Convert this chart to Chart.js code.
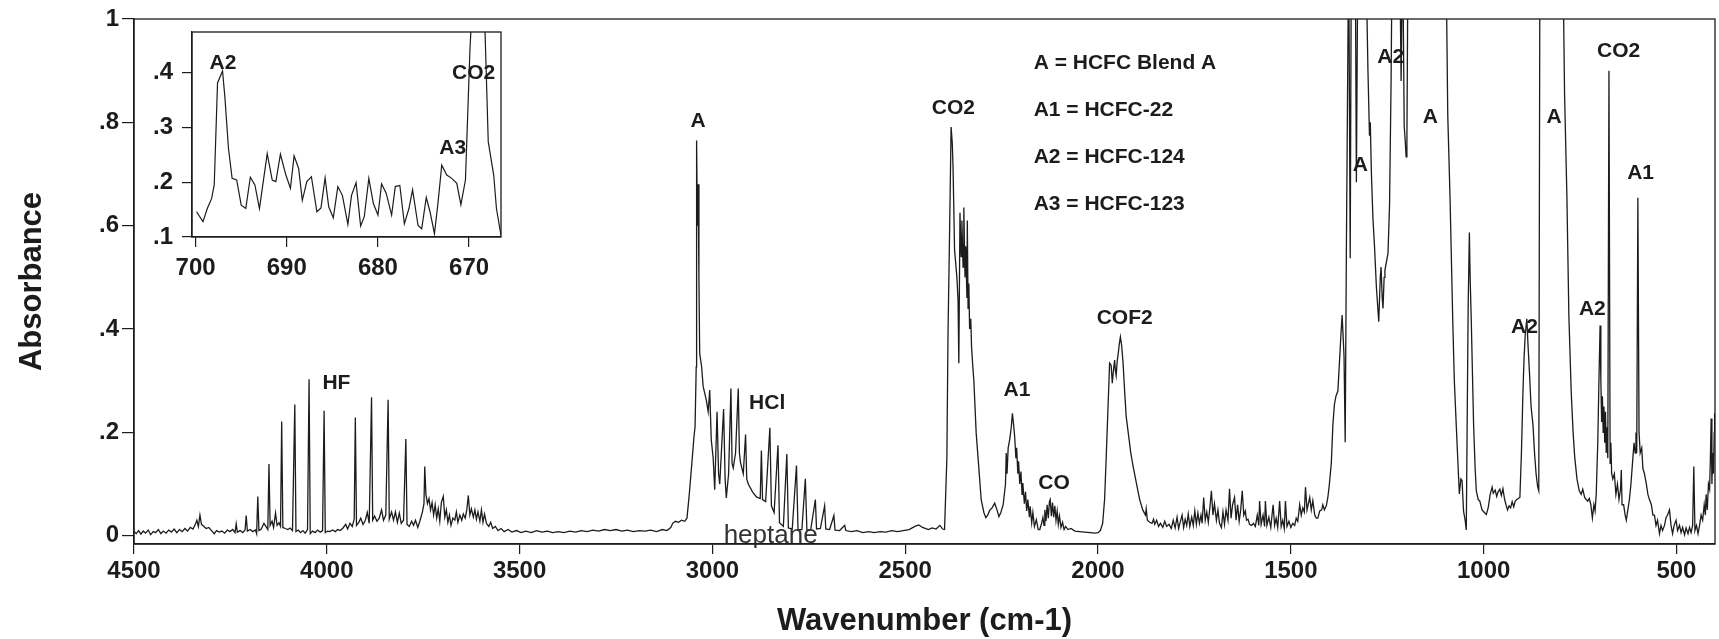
<!DOCTYPE html>
<html>
<head>
<meta charset="utf-8">
<script src="https://cdn.jsdelivr.net/npm/chart.js@4.4.0/dist/chart.umd.min.js"></script>
<style>
  html, body { margin: 0; padding: 0; background: #fff; }
  #wrap { position: relative; width: 1719px; height: 639px; }
  #main { position: absolute; left: 0; top: 0; }
  #inset { position: absolute; left: 136px; top: 22px; background: #fff; }
</style>
</head>
<body>
<div id="wrap">
  <canvas id="main" width="1719" height="639"></canvas>
  <canvas id="inset" width="380" height="265"></canvas>
</div>
<script>
// spectrum: wavenumber (cm-1) and absorbance
const wavenumber = [
  4500,4494,4488,4482,4476,4470,4463,4457,4450,4444,4437,4430,4424,4417,4410,4403,4396,4389,4382,4375,
  4368,4361,4354,4347,4341,4337,4333,4329,4325,4320,4313,4306,4299,4292,4286,4279,4272,4265,4258,4251,
  4244,4238,4235,4232,4225,4218,4212,4209,4206,4199,4192,4185,4182,4179,4176,4170,4163,4158,4153,4150,
  4147,4142,4138,4133,4129,4124,4120,4117,4114,4108,4101,4095,4089,4083,4080,4074,4068,4062,4056,4050,
  4046,4043,4037,4030,4024,4017,4011,4007,4004,3998,3992,3985,3978,3972,3965,3958,3951,3946,3940,3934,
  3929,3926,3923,3917,3912,3906,3900,3895,3890,3884,3881,3876,3870,3864,3858,3853,3847,3841,3838,3832,
  3827,3822,3817,3812,3807,3801,3795,3792,3786,3780,3775,3770,3764,3758,3752,3748,3746,3743,3739,3735,
  3731,3727,3723,3719,3715,3711,3707,3703,3698,3694,3690,3686,3682,3678,3673,3668,3664,3660,3655,3650,
  3646,3641,3637,3633,3629,3625,3620,3616,3612,3608,3603,3599,3595,3591,3586,3580,3575,3570,3563,3556,
  3548,3540,3530,3520,3508,3496,3484,3470,3456,3442,3428,3414,3400,3385,3370,3355,3340,3325,3310,3295,
  3280,3265,3250,3235,3220,3205,3190,3175,3160,3145,3130,3118,3108,3103,3096,3088,3080,3072,3066,3060,
  3054,3048,3045,3042,3041,3039,3037,3035,3033,3028,3024,3016,3011,3007,3003,2998,2994,2988,2984,2981,
  2971,2967,2964,2958,2952,2949,2946,2940,2933,2930,2927,2920,2914,2911,2907,2896,2886,2876,2873,2870,
  2862,2851,2847,2840,2830,2826,2816,2807,2803,2793,2782,2778,2768,2759,2755,2745,2733,2730,2720,2709,
  2706,2696,2685,2682,2670,2657,2654,2640,2625,2610,2595,2580,2565,2550,2535,2520,2505,2490,2475,2465,
  2455,2440,2430,2420,2410,2403,2398,2392,2389,2385,2381,2378,2376,2372,2366,2363,2361,2358,2355,2353,
  2350,2348,2345,2343,2340,2339,2337,2335,2333,2330,2328,2325,2322,2316,2310,2303,2296,2291,2286,2281,
  2274,2268,2262,2257,2252,2246,2240,2238,2236,2233,2229,2225,2222,2219,2216,2213,2211,2208,2206,2203,
  2200,2197,2195,2191,2188,2185,2182,2178,2176,2172,2169,2165,2160,2155,2151,2146,2143,2140,2138,2135,
  2132,2129,2126,2124,2121,2118,2115,2112,2109,2106,2103,2100,2096,2092,2088,2084,2078,2070,2060,2048,
  2035,2020,2008,2000,1994,1988,1983,1979,1974,1970,1966,1963,1960,1957,1955,1953,1950,1948,1945,1942,
  1939,1935,1931,1927,1920,1915,1909,1900,1892,1884,1877,1875,1872,1866,1860,1856,1853,1848,1843,1838,
  1832,1827,1822,1816,1810,1805,1800,1795,1791,1787,1782,1778,1774,1770,1766,1762,1757,1753,1749,1745,
  1741,1737,1733,1730,1726,1722,1718,1714,1710,1706,1702,1698,1693,1689,1685,1680,1676,1672,1668,1663,
  1659,1655,1651,1646,1642,1638,1634,1630,1626,1622,1618,1615,1611,1607,1602,1597,1592,1587,1583,1581,
  1577,1572,1568,1566,1562,1557,1552,1546,1542,1538,1534,1529,1525,1521,1517,1514,1510,1505,1500,1495,
  1490,1486,1482,1477,1473,1469,1465,1462,1458,1455,1451,1447,1443,1438,1434,1430,1425,1420,1417,1413,
  1408,1404,1400,1395,1391,1387,1383,1378,1374,1370,1367,1364,1362,1359,1356,1354,1350,1346,1343,1333,
  1330,1326,1306,1300,1296,1294,1291,1287,1283,1278,1272,1268,1266,1263,1261,1258,1256,1252,1248,1244,
  1240,1237,1218,1214,1210,1206,1203,1201,1199,1196,1098,1093,1087,1080,1076,1071,1066,1063,1059,1056,
  1052,1048,1045,1042,1040,1037,1035,1032,1026,1022,1019,1014,1010,1004,998,993,988,983,978,975,
  970,966,963,958,954,950,946,942,938,934,930,926,922,918,914,910,906,902,898,895,
  892,888,885,881,877,872,868,864,860,857,854,795,790,784,779,775,773,768,764,758,
  752,747,743,738,734,730,726,722,718,714,711,708,704,701,698,696,694,692,690,688,
  686,684,682,680,678,675,672,670,668,665,661,657,653,649,645,643,641,637,633,630,
  626,622,618,614,610,607,605,603,600,597,594,590,587,583,578,574,570,565,561,557,
  553,549,544,540,536,531,527,523,518,514,510,506,501,497,492,488,484,479,475,470,
  466,462,458,455,452,448,444,440,436,432,428,425,423,420,417,414,412,410,408,406,
  404,402,401
];
const absorbance = [
  0.008,0.004,0.010,0.003,0.009,0.005,0.011,0.002,0.008,0.006,0.012,0.004,0.009,0.005,0.011,0.007,0.013,0.006,0.012,0.008,
  0.014,0.009,0.016,0.013,0.022,0.030,0.018,0.040,0.022,0.019,0.014,0.016,0.010,0.004,0.010,0.007,0.009,0.005,0.011,0.008,
  0.012,0.006,0.023,0.007,0.010,0.006,0.011,0.039,0.009,0.012,0.008,0.011,0.004,0.076,0.010,0.013,0.024,0.018,0.012,0.139,
  0.020,0.028,0.016,0.044,0.020,0.025,0.018,0.221,0.016,0.014,0.012,0.015,0.010,0.254,0.008,0.011,0.006,0.010,0.005,0.012,
  0.303,0.004,0.009,0.006,0.011,0.007,0.010,0.242,0.006,0.009,0.008,0.011,0.008,0.012,0.010,0.015,0.022,0.013,0.024,0.018,
  0.032,0.229,0.020,0.026,0.034,0.022,0.030,0.045,0.024,0.268,0.030,0.038,0.028,0.034,0.050,0.030,0.040,0.263,0.032,0.046,
  0.030,0.046,0.026,0.044,0.024,0.030,0.187,0.022,0.018,0.028,0.020,0.030,0.016,0.030,0.046,0.062,0.134,0.080,0.062,0.072,
  0.050,0.064,0.040,0.060,0.034,0.052,0.028,0.064,0.076,0.036,0.050,0.026,0.040,0.020,0.034,0.030,0.046,0.026,0.040,0.030,
  0.042,0.034,0.050,0.078,0.040,0.052,0.036,0.050,0.032,0.046,0.028,0.050,0.026,0.042,0.024,0.018,0.026,0.014,0.018,0.010,
  0.014,0.008,0.012,0.007,0.010,0.006,0.009,0.006,0.010,0.007,0.009,0.006,0.008,0.006,0.009,0.007,0.010,0.008,0.011,0.009,
  0.012,0.010,0.012,0.009,0.011,0.008,0.010,0.009,0.011,0.008,0.012,0.010,0.016,0.024,0.028,0.026,0.030,0.028,0.034,0.080,
  0.134,0.190,0.211,0.327,0.765,0.600,0.680,0.500,0.353,0.327,0.289,0.263,0.240,0.282,0.186,0.150,0.089,0.240,0.120,0.100,
  0.245,0.110,0.073,0.120,0.285,0.140,0.131,0.160,0.285,0.160,0.141,0.120,0.196,0.110,0.100,0.085,0.075,0.072,0.165,0.070,
  0.066,0.209,0.058,0.045,0.175,0.025,0.018,0.158,0.015,0.013,0.136,0.012,0.012,0.110,0.011,0.012,0.070,0.013,0.014,0.058,
  0.013,0.012,0.039,0.011,0.010,0.020,0.010,0.008,0.010,0.006,0.008,0.006,0.008,0.007,0.010,0.008,0.010,0.012,0.018,0.021,
  0.016,0.012,0.015,0.013,0.020,0.013,0.012,0.150,0.392,0.585,0.791,0.760,0.714,0.553,0.500,0.456,0.334,0.625,0.540,0.610,
  0.520,0.635,0.500,0.560,0.460,0.610,0.440,0.488,0.400,0.420,0.366,0.330,0.300,0.199,0.140,0.070,0.045,0.035,0.040,0.049,
  0.055,0.063,0.050,0.037,0.045,0.060,0.100,0.160,0.120,0.170,0.186,0.210,0.237,0.215,0.190,0.150,0.170,0.120,0.144,0.100,
  0.124,0.080,0.102,0.062,0.085,0.048,0.070,0.036,0.057,0.025,0.045,0.018,0.031,0.012,0.012,0.025,0.035,0.020,0.050,0.028,
  0.060,0.034,0.066,0.070,0.038,0.064,0.036,0.058,0.030,0.048,0.022,0.038,0.016,0.026,0.012,0.018,0.012,0.014,0.009,0.008,
  0.007,0.006,0.005,0.006,0.010,0.024,0.070,0.147,0.250,0.334,0.330,0.295,0.320,0.340,0.320,0.310,0.340,0.350,0.370,0.385,
  0.370,0.334,0.280,0.231,0.190,0.160,0.134,0.100,0.070,0.050,0.040,0.052,0.030,0.026,0.024,0.032,0.022,0.030,0.018,0.024,
  0.016,0.028,0.018,0.022,0.014,0.030,0.015,0.036,0.014,0.026,0.040,0.016,0.032,0.020,0.042,0.018,0.036,0.020,0.048,0.022,
  0.044,0.024,0.040,0.024,0.074,0.030,0.046,0.026,0.054,0.087,0.040,0.062,0.030,0.050,0.024,0.016,0.046,0.022,0.050,0.030,
  0.091,0.034,0.060,0.074,0.030,0.060,0.028,0.050,0.087,0.040,0.048,0.030,0.032,0.022,0.020,0.024,0.018,0.040,0.020,0.067,
  0.022,0.040,0.018,0.067,0.020,0.036,0.016,0.060,0.020,0.034,0.016,0.067,0.018,0.030,0.014,0.067,0.018,0.028,0.016,0.024,
  0.020,0.034,0.028,0.060,0.040,0.054,0.046,0.094,0.050,0.060,0.074,0.050,0.068,0.040,0.034,0.034,0.048,0.050,0.060,0.050,
  0.058,0.074,0.100,0.141,0.214,0.254,0.270,0.280,0.334,0.390,0.427,0.380,0.347,0.181,0.547,0.747,1.150,0.537,1.150,1.150,
  0.684,1.150,1.150,0.900,0.774,0.800,0.700,0.613,0.560,0.480,0.414,0.500,0.520,0.460,0.440,0.500,0.514,0.530,0.547,0.640,
  0.880,1.150,1.150,0.880,1.150,0.793,0.760,0.733,0.760,1.150,1.150,0.813,0.650,0.414,0.300,0.214,0.130,0.081,0.110,0.107,
  0.047,0.030,0.011,0.280,0.450,0.587,0.500,0.414,0.214,0.130,0.087,0.070,0.067,0.050,0.045,0.041,0.055,0.080,0.094,0.082,
  0.088,0.076,0.084,0.090,0.078,0.091,0.072,0.060,0.050,0.058,0.054,0.066,0.056,0.067,0.070,0.072,0.074,0.160,0.280,0.347,
  0.390,0.420,0.370,0.314,0.250,0.214,0.160,0.120,0.095,0.087,1.150,1.150,0.850,0.654,0.427,0.330,0.280,0.200,0.154,0.110,
  0.087,0.080,0.090,0.074,0.070,0.067,0.072,0.060,0.034,0.060,0.048,0.080,0.181,0.300,0.407,0.300,0.220,0.270,0.200,0.250,
  0.180,0.240,0.160,0.210,0.150,0.900,0.140,0.180,0.120,0.110,0.120,0.080,0.100,0.070,0.090,0.127,0.060,0.060,0.040,0.030,
  0.050,0.070,0.100,0.140,0.180,0.160,0.200,0.160,0.654,0.200,0.160,0.170,0.130,0.120,0.100,0.080,0.070,0.060,0.040,0.040,
  0.020,0.030,0.004,0.020,0.010,0.020,0.035,0.040,0.050,0.020,0.004,0.020,0.030,0.010,0.020,0.006,0.016,0.002,0.015,0.004,
  0.016,0.006,0.020,0.134,0.010,0.020,0.004,0.020,0.040,0.030,0.060,0.040,0.080,0.050,0.100,0.090,0.150,0.227,0.100,0.160,
  0.120,0.200,0.237
];

// inset: 700 - 665 cm-1
const insetWavenumber = [
  699.9,699.2,698.7,698.25,697.96,697.6,697.05,696.8,696.4,696.0,695.5,695.0,694.5,694.0,693.5,693.0,692.15,691.6,691.2,690.7,
  690.1,689.6,689.2,688.7,688.3,687.8,687.3,686.7,686.25,685.8,685.4,684.9,684.4,683.9,683.3,682.9,682.4,681.9,681.5,681.0,
  680.5,680.0,679.6,679.1,678.5,678.1,677.6,677.1,676.6,676.2,675.6,675.2,674.7,674.3,673.8,673.4,673.0,672.45,671.9,671.35,
  670.9,670.4,669.9,669.4,668.9,668.4,667.9,667.3,667.0,666.5
];
const insetAbsorbance = [
  0.146,0.128,0.153,0.170,0.195,0.381,0.403,0.357,0.262,0.207,0.204,0.158,0.152,0.209,0.195,0.152,0.252,0.204,0.201,0.251,
  0.213,0.189,0.248,0.225,0.167,0.201,0.210,0.146,0.153,0.208,0.155,0.135,0.192,0.176,0.123,0.176,0.199,0.120,0.137,0.207,
  0.161,0.140,0.197,0.180,0.140,0.192,0.194,0.124,0.152,0.186,0.121,0.115,0.172,0.147,0.106,0.164,0.231,0.213,0.207,0.198,
  0.159,0.204,0.445,0.600,0.700,0.560,0.274,0.213,0.152,0.103
];

const xTicks = [4500, 4000, 3500, 3000, 2500, 2000, 1500, 1000, 500];
const xTickLabels = ['4500', '4000', '3500', '3000', '2500', '2000', '1500', '1000', '500'];
const yTicks = [0, 0.2, 0.4, 0.6, 0.8, 1];
const yTickLabels = ['0', '.2', '.4', '.6', '.8', '1'];

const insetXTicks = [700, 690, 680, 670];
const insetXTickLabels = ['700', '690', '680', '670'];
const insetYTicks = [0.1, 0.2, 0.3, 0.4];
const insetYTickLabels = ['.1', '.2', '.3', '.4'];

// peak labels: [text, wavenumber, absorbance]
const peakLabels = [
  ['HF', 3975, 0.296], ['A', 3037, 0.803], ['HCl', 2858, 0.256],
  ['CO2', 2375, 0.828], ['A1', 2210, 0.282], ['CO', 2114, 0.101],
  ['COF2', 1931, 0.421], ['A2', 1241, 0.926], ['A', 1320, 0.718],
  ['A', 1138, 0.809], ['A', 817, 0.809], ['CO2', 650, 0.938],
  ['A1', 593, 0.701], ['A2', 894, 0.404], ['A2', 718, 0.438]
];
const keyLines = ['A = HCFC Blend A', 'A1 = HCFC-22', 'A2 = HCFC-124', 'A3 = HCFC-123'];
const keyAbs = [0.915, 0.824, 0.733, 0.642];
const keyWavenumber = 2167;
const insetLabels = [['A2', 697, 0.417], ['CO2', 669.5, 0.399], ['A3', 671.8, 0.262]];

const INK = '#1c1c1c';
const FONT = "'Liberation Sans', Arial, Helvetica, sans-serif";

const framePlugin = {
  id: 'frame',
  afterDraw(chart) {
    const { ctx, chartArea: a } = chart;
    ctx.save();
    ctx.strokeStyle = INK;
    ctx.lineWidth = 1.3;
    ctx.strokeRect(a.left, a.top, a.right - a.left, a.bottom - a.top);
    ctx.restore();
  }
};

function textPlugin(labels, extra) {
  return {
    id: 'texts',
    afterDatasetsDraw(chart) {
      const { ctx, scales: { x, y } } = chart;
      ctx.save();
      ctx.fillStyle = INK;
      ctx.font = 'bold 21px ' + FONT;
      ctx.textAlign = 'center';
      ctx.textBaseline = 'middle';
      labels.forEach(([t, w, a]) => ctx.fillText(t, x.getPixelForValue(w), y.getPixelForValue(a)));
      if (extra) extra(ctx, x, y);
      ctx.restore();
    }
  };
}

const mainTexts = textPlugin(peakLabels, (ctx, x, y) => {
  ctx.textAlign = 'left';
  keyLines.forEach((t, i) => ctx.fillText(t, x.getPixelForValue(keyWavenumber), y.getPixelForValue(keyAbs[i])));
  ctx.textAlign = 'center';
  ctx.font = '26px ' + FONT;
  ctx.fillStyle = '#333';
  ctx.fillText('heptane', x.getPixelForValue(2849), y.getPixelForValue(0.0));
});

new Chart(document.getElementById('main'), {
  type: 'scatter',
  data: {
    datasets: [{
      data: wavenumber.map((w, i) => ({ x: w, y: absorbance[i] })),
      showLine: true,
      borderColor: INK,
      borderWidth: 1.3,
      pointRadius: 0,
      tension: 0
    }]
  },
  options: {
    responsive: false,
    animation: false,
    layout: { padding: { top: 19, right: 4, left: 0, bottom: 0 } },
    plugins: { legend: { display: false }, tooltip: { enabled: false } },
    scales: {
      x: {
        type: 'linear', reverse: true, min: 400, max: 4500,
        afterBuildTicks: s => { s.ticks = xTicks.map(v => ({ value: v })); },
        afterFit: s => { s.height = 95; },
        grid: { drawOnChartArea: false, tickLength: 10, color: INK, lineWidth: 1.2 },
        border: { color: INK, width: 1.4 },
        ticks: { color: INK, font: { family: FONT, size: 24, weight: 'bold' }, padding: 3, maxRotation: 0, autoSkip: false,
                 callback: (v, i) => xTickLabels[i] },
        title: { display: true, text: 'Wavenumber (cm-1)', color: INK,
                 font: { family: FONT, size: 31, weight: 'bold', lineHeight: 1 }, padding: { top: 0, bottom: 2 } }
      },
      y: {
        min: -0.016, max: 1,
        afterBuildTicks: s => { s.ticks = yTicks.map(v => ({ value: v })); },
        afterFit: s => { s.width = 134; },
        grid: { drawOnChartArea: false, tickLength: 12, color: INK, lineWidth: 1.2 },
        border: { color: INK, width: 1.4 },
        ticks: { color: INK, font: { family: FONT, size: 24, weight: 'bold' }, padding: 3, autoSkip: false,
                 callback: (v, i) => yTickLabels[i] },
        title: { display: true, text: 'Absorbance', color: INK,
                 font: { family: FONT, size: 31, weight: 'bold', lineHeight: 1 }, padding: { top: 17, bottom: 0 } }
      }
    }
  },
  plugins: [framePlugin, mainTexts]
});

new Chart(document.getElementById('inset'), {
  type: 'scatter',
  data: {
    datasets: [{
      data: insetWavenumber.map((w, i) => ({ x: w, y: insetAbsorbance[i] })),
      showLine: true,
      borderColor: INK,
      borderWidth: 1.2,
      pointRadius: 0,
      tension: 0
    }]
  },
  options: {
    responsive: false,
    animation: false,
    layout: { padding: { top: 10, right: 15, left: 0, bottom: 0 } },
    plugins: { legend: { display: false }, tooltip: { enabled: false } },
    scales: {
      x: {
        type: 'linear', reverse: true, min: 666.5, max: 700.4,
        afterBuildTicks: s => { s.ticks = insetXTicks.map(v => ({ value: v })); },
        afterFit: s => { s.height = 50; },
        grid: { drawOnChartArea: false, tickLength: 10, color: INK, lineWidth: 1.2 },
        border: { color: INK, width: 1.3 },
        ticks: { color: INK, font: { family: FONT, size: 24, weight: 'bold' }, padding: 7, maxRotation: 0, autoSkip: false,
                 callback: (v, i) => insetXTickLabels[i] }
      },
      y: {
        min: 0.1, max: 0.474,
        afterBuildTicks: s => { s.ticks = insetYTicks.map(v => ({ value: v })); },
        afterFit: s => { s.width = 56; s.paddingTop = 0; s.paddingBottom = 0; },
        grid: { drawOnChartArea: false, tickLength: 10, color: INK, lineWidth: 1.2 },
        border: { color: INK, width: 1.3 },
        ticks: { color: INK, font: { family: FONT, size: 24, weight: 'bold' }, padding: 9, autoSkip: false,
                 callback: (v, i) => insetYTickLabels[i] }
      }
    }
  },
  plugins: [framePlugin, textPlugin(insetLabels)]
});
</script>
</body>
</html>
